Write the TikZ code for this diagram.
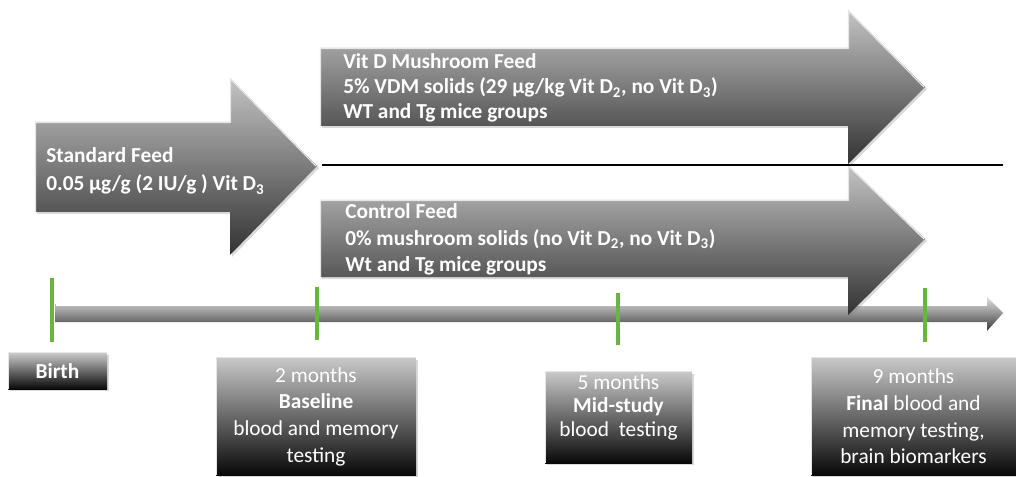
\documentclass[tikz,border=0pt]{standalone}
\usepackage{fontspec}
\setmainfont{Carlito}
\usetikzlibrary{shadows}
\definecolor{tickgreen}{HTML}{6DB33F}
\definecolor{arrtop}{HTML}{C4C4C4}
\definecolor{arrmid}{HTML}{8E8E8E}
\definecolor{arrbot}{HTML}{323232}
\definecolor{boxtop}{HTML}{C8C8C8}
\definecolor{boxmid}{HTML}{6A6A6A}
\definecolor{boxbot}{HTML}{080808}
\definecolor{bartop}{HTML}{E2E2E2}
\definecolor{barmid}{HTML}{9C9C9C}
\definecolor{barbot}{HTML}{3A3A3A}
\definecolor{bevel}{HTML}{E6E6E6}
\tikzset{
  feedarrow/.style={top color=arrtop, middle color=arrmid, bottom color=arrbot,
    drop shadow={opacity=0.3, shadow xshift=1.5pt, shadow yshift=-1.5pt}},
  bevelline/.style={draw=bevel, line width=0.9pt, line join=round},
  feedtext/.style={anchor=west, align=left, text=white, inner sep=0pt,
    font=\fontsize{16}{18.75}\selectfont\bfseries},
  stagebox/.style={top color=boxtop, middle color=boxmid, bottom color=boxbot,
    inner sep=0pt, text=white, align=center,
    drop shadow={opacity=0.3, shadow xshift=1.5pt, shadow yshift=-1.5pt},
    font=\fontsize{16}{20}\selectfont},
  stagetext/.style={text=white, align=center, inner sep=0pt, font=\fontsize{16}{20}\selectfont},
  tickmark/.style={draw=tickgreen, line width=3pt},
}
\begin{document}
\begin{tikzpicture}[x=0.75pt,y=-0.75pt]
\useasboundingbox (0,0) rectangle (1016,477);

% timeline bar
\shade[top color=bartop, middle color=barmid, bottom color=barbot]
  (55,304) -- (987,304) -- (987,297) -- (1003,313) -- (987,331) -- (987,322) -- (55,322) -- cycle;
\draw[white, line width=0.8pt] (56,305) -- (987,305);

% standard feed arrow
\shade[feedarrow] (35,122) -- (230,122) -- (230,78) -- (317,166) -- (230,255) -- (230,212) -- (35,212) -- cycle;
\draw[bevelline] (35.5,212) -- (35.5,122.5) -- (230.5,122.5) -- (230.5,79) -- (316,166);
\node[feedtext, font=\fontsize{16}{21}\selectfont\bfseries] (std) at (46,171)
  {Standard Feed\\0.05 µg/g (2 IU/g ) Vit D\textsubscript{3}};

% vit D mushroom arrow
\shade[feedarrow] (320,48) -- (848,48) -- (848,10) -- (925,87) -- (848,164) -- (848,126) -- (320,126) -- cycle;
\draw[bevelline] (320.5,126) -- (320.5,48.5) -- (848.5,48.5) -- (848.5,11) -- (924,87);
\node[feedtext] (vdm) at (343,88)
  {Vit D Mushroom Feed\\5\% VDM solids (29 µg/kg Vit D\textsubscript{2}, no Vit D\textsubscript{3})\\WT and Tg mice groups};

% control arrow
\shade[feedarrow] (320,200) -- (848,200) -- (848,165) -- (925,239) -- (848,315) -- (848,277) -- (320,277) -- cycle;
\draw[bevelline] (320.5,277) -- (320.5,200.5) -- (848.5,200.5) -- (848.5,166) -- (924,239);
\node[feedtext, font=\fontsize{16}{19.75}\selectfont\bfseries] (ctl) at (345,239.5)
  {Control Feed\\0\% mushroom solids (no Vit D\textsubscript{2}, no Vit D\textsubscript{3})\\Wt and Tg mice groups};

% divider line
\coordinate (divL) at (322,165);
\coordinate (divR) at (1003,165);
\draw[black, line width=2.2pt] (divL) -- (divR);

% ticks
\draw[tickmark] (52,278) -- (52,342);
\draw[tickmark] (317,287) -- (317,340);
\draw[tickmark] (618,293) -- (618,345);
\draw[tickmark] (925,288) -- (925,342);

% stage boxes
\node[stagebox, minimum width=99*0.75pt, minimum height=36*0.75pt, font=\fontsize{16}{20}\selectfont\bfseries]
  (birth) at (57.5,371) {Birth};
\node[stagebox, minimum width=200*0.75pt, minimum height=117*0.75pt]
  (m2) at (316,416.5) {2 months\\\textbf{Baseline}\\blood and memory\\testing};
\node[stagebox, minimum width=147*0.75pt, minimum height=91*0.75pt] (m5) at (618.5,417.5) {};
\node[stagetext, font=\fontsize{16}{17.6}\selectfont] (m5t) at (618.5,407)
  {5 months\\\textbf{Mid-study}\\blood\ \ testing};
\node[stagebox, minimum width=205*0.75pt, minimum height=117*0.75pt]
  (m9) at (913.5,416.5) {9 months\\\textbf{Final} blood and\\memory testing,\\brain biomarkers};
\foreach \b in {birth,m2,m5,m9}
  \draw[bevelline] (\b.south west) ++(0.5,0) |- ([xshift=-0.5pt]\b.north east);
\end{tikzpicture}
\end{document}
